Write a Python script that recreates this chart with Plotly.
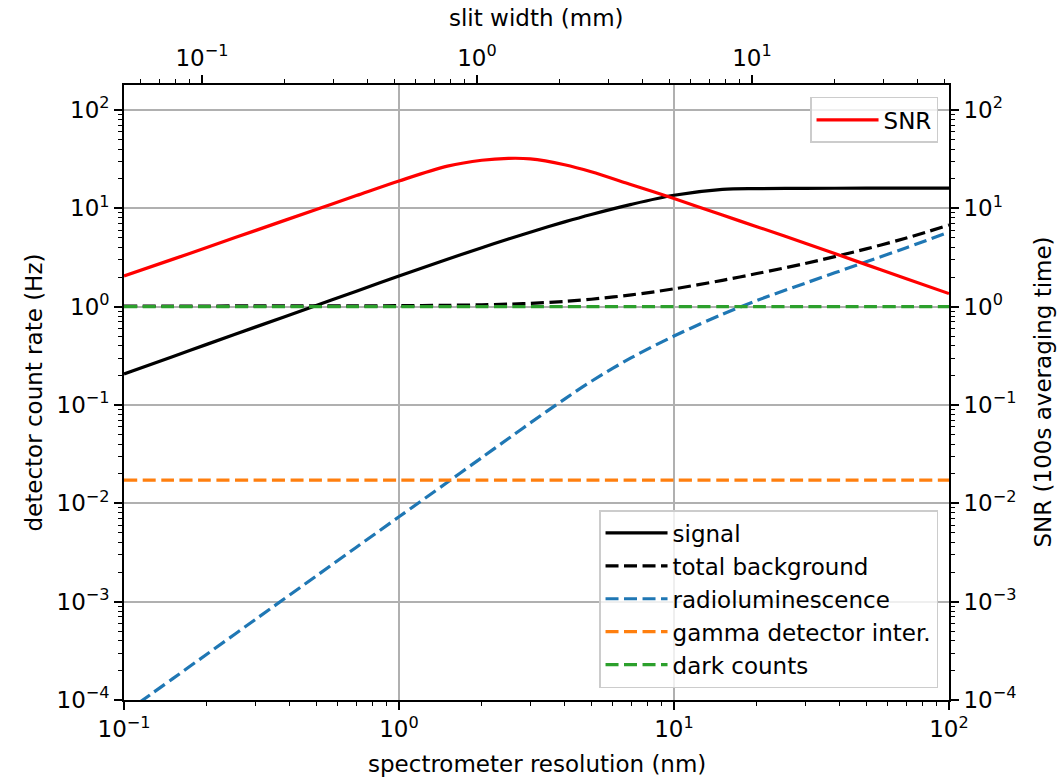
import numpy as np
import plotly.graph_objects as go

# spectrometer resolution sample points (nm)
resolution_nm = [0.1, 0.15, 0.2, 0.3, 0.5, 0.7, 1, 1.5, 2, 2.5, 3, 4, 5, 7,
                 10, 15, 20, 30, 50, 70, 100]

# detector count rates (Hz)
signal_hz = [0.207, 0.31, 0.414, 0.62, 1.03, 1.44, 2.05, 3.04, 3.98, 4.88,
             5.73, 7.29, 8.68, 11.0, 13.6, 15.6, 15.9, 16.0, 16.05, 16.05,
             16.05]
total_background_hz = [1.017, 1.017, 1.017, 1.018, 1.019, 1.021, 1.024, 1.033,
                       1.046, 1.063, 1.083, 1.132, 1.191, 1.32, 1.52, 1.855,
                       2.174, 2.752, 3.877, 5.0, 6.77]
radioluminescence_hz = [7.3e-5, 1.64e-4, 2.92e-4, 6.57e-4, 1.825e-3, 3.58e-3,
                        7.3e-3, 1.64e-2, 2.92e-2, 4.56e-2, 6.57e-2, 0.115,
                        0.174, 0.303, 0.503, 0.838, 1.157, 1.735, 2.86, 3.98,
                        5.75]
gamma_detector_hz = [0.0172] * len(resolution_nm)
dark_counts_hz = [1.0] * len(resolution_nm)

# signal-to-noise ratio for 100 s averaging
snr_100s = [2.05, 3.03, 4.01, 5.94, 9.76, 13.5, 19.0, 26.9, 30.9, 32.3, 31.9,
            27.8, 23.6, 17.4, 12.6, 8.55, 6.52, 4.43, 2.68, 1.93, 1.36]

# slit width per nm of resolution (mm / nm)
SLIT_PER_NM = 1 / 1.92

FONT = "DejaVu Sans"
FS = 23
LW = 3.2
DASH = "13px,5.5px"

X_RANGE = [0.1, 100]
Y_RANGE = [1e-4, 10 ** 2.255]


def sup(e):
    s = str(e).replace("-", "\u2212")
    return f"10<sup>{s}</sup>"


def minor_vals(lo_exp, hi_exp, lo, hi):
    vals = []
    for e in range(lo_exp, hi_exp + 1):
        for m in range(2, 10):
            v = m * 10.0 ** e
            if lo < v < hi:
                vals.append(v)
    return vals


def curve(x, y, name, color, dash=None, **kw):
    return go.Scatter(x=x, y=y, name=name, mode="lines",
                      line=dict(color=color, width=LW, dash=dash,
                                shape="spline", smoothing=0.9),
                      **kw)


fig = go.Figure()

fig.add_trace(curve(resolution_nm, signal_hz, "signal", "black",
                    legend="legend2"))
fig.add_trace(curve(resolution_nm, total_background_hz, "total background",
                    "black", DASH, legend="legend2"))
fig.add_trace(curve(resolution_nm, radioluminescence_hz, "radioluminescence",
                    "#1f77b4", DASH, legend="legend2"))
fig.add_trace(curve(resolution_nm, gamma_detector_hz, "gamma detector inter.",
                    "#ff7f0e", DASH, legend="legend2"))
fig.add_trace(curve(resolution_nm, dark_counts_hz, "dark counts",
                    "#2ca02c", DASH, legend="legend2"))
fig.add_trace(curve(resolution_nm, snr_100s, "SNR", "#ff0000",
                    yaxis="y2", legend="legend"))

# the same signal on the slit-width scale (transparent; carries the top axis)
fig.add_trace(go.Scatter(x=[r * SLIT_PER_NM for r in resolution_nm],
                         y=signal_hz, xaxis="x2", mode="lines",
                         line=dict(color="rgba(0,0,0,0)", width=0),
                         showlegend=False, hoverinfo="skip"))

y_major = [10.0 ** e for e in range(-4, 3)]
y_text = [sup(e) for e in range(-4, 3)]
y_minor = minor_vals(-4, 2, Y_RANGE[0], Y_RANGE[1])

x_major = [10.0 ** e for e in range(-1, 3)]
x_text = [sup(e) for e in range(-1, 3)]
x_minor = minor_vals(-1, 1, X_RANGE[0], X_RANGE[1])

slit_lo = X_RANGE[0] * SLIT_PER_NM
slit_hi = X_RANGE[1] * SLIT_PER_NM
s_major = [10.0 ** e for e in range(-1, 2)]
s_text = [sup(e) for e in range(-1, 2)]
s_minor = minor_vals(-2, 1, slit_lo, slit_hi)

common = dict(type="log", showline=True, linecolor="black", linewidth=1.6,
              ticks="outside", ticklen=8, tickwidth=1.6, tickcolor="black",
              tickfont=dict(family=FONT, size=FS, color="black"),
              zeroline=False)
minor_style = dict(tickmode="array", ticks="outside", ticklen=4.5,
                   tickwidth=1.2, tickcolor="black", showgrid=False)

legend_style = dict(bgcolor="rgba(255,255,255,0.8)", bordercolor="#cccccc",
                    borderwidth=1.5, font=dict(family=FONT, size=FS),
                    itemwidth=62, tracegroupgap=0)

fig.update_layout(
    width=1062, height=778, autosize=False,
    margin=dict(l=124, r=113, t=85, b=78),
    paper_bgcolor="white", plot_bgcolor="white",
    font=dict(family=FONT, size=FS, color="black"),
    hovermode=False,
    xaxis=dict(**common, range=[np.log10(X_RANGE[0]), np.log10(X_RANGE[1])],
               tickmode="array", tickvals=x_major, ticktext=x_text,
               showgrid=True, gridcolor="#b0b0b0", gridwidth=1.6,
               minor=dict(**minor_style, tickvals=x_minor),
               anchor="y", side="bottom"),
    xaxis2=dict(**common, range=[np.log10(slit_lo), np.log10(slit_hi)],
                tickmode="array", tickvals=s_major, ticktext=s_text,
                showgrid=False,
                minor=dict(**minor_style, tickvals=s_minor),
                overlaying="x", side="top", anchor="y"),
    yaxis=dict(**common, range=[np.log10(Y_RANGE[0]), np.log10(Y_RANGE[1])],
               tickmode="array", tickvals=y_major, ticktext=y_text,
               showgrid=True, gridcolor="#b0b0b0", gridwidth=1.6,
               minor=dict(**minor_style, tickvals=y_minor),
               side="left", anchor="x"),
    yaxis2=dict(**common, range=[np.log10(Y_RANGE[0]), np.log10(Y_RANGE[1])],
                tickmode="array", tickvals=y_major, ticktext=y_text,
                showgrid=False,
                minor=dict(**minor_style, tickvals=y_minor),
                overlaying="y", side="right", anchor="x"),
    legend=dict(x=0.9867, y=0.9805, xanchor="right", yanchor="top",
                **legend_style),
    legend2=dict(x=0.9867, y=0.0195, xanchor="right", yanchor="bottom",
                 **legend_style),
    showlegend=True,
)

# axis titles
titles = [
    dict(text="spectrometer resolution (nm)", x=0.5, y=(700 - 764) / 615,
         textangle=0),
    dict(text="slit width (mm)", x=0.5, y=(700 - 18) / 615, textangle=0),
    dict(text="detector count rate (Hz)", x=(33 - 124) / 825, y=0.5,
         textangle=-90),
    dict(text="SNR (100s averaging time)", x=(1042 - 124) / 825, y=0.5,
         textangle=-90),
]
for t in titles:
    fig.add_annotation(text=t["text"], x=t["x"], y=t["y"], xref="paper",
                       yref="paper", xanchor="center", yanchor="middle",
                       textangle=t["textangle"], showarrow=False,
                       font=dict(family=FONT, size=FS, color="black"))

fig.write_html("out.html")
